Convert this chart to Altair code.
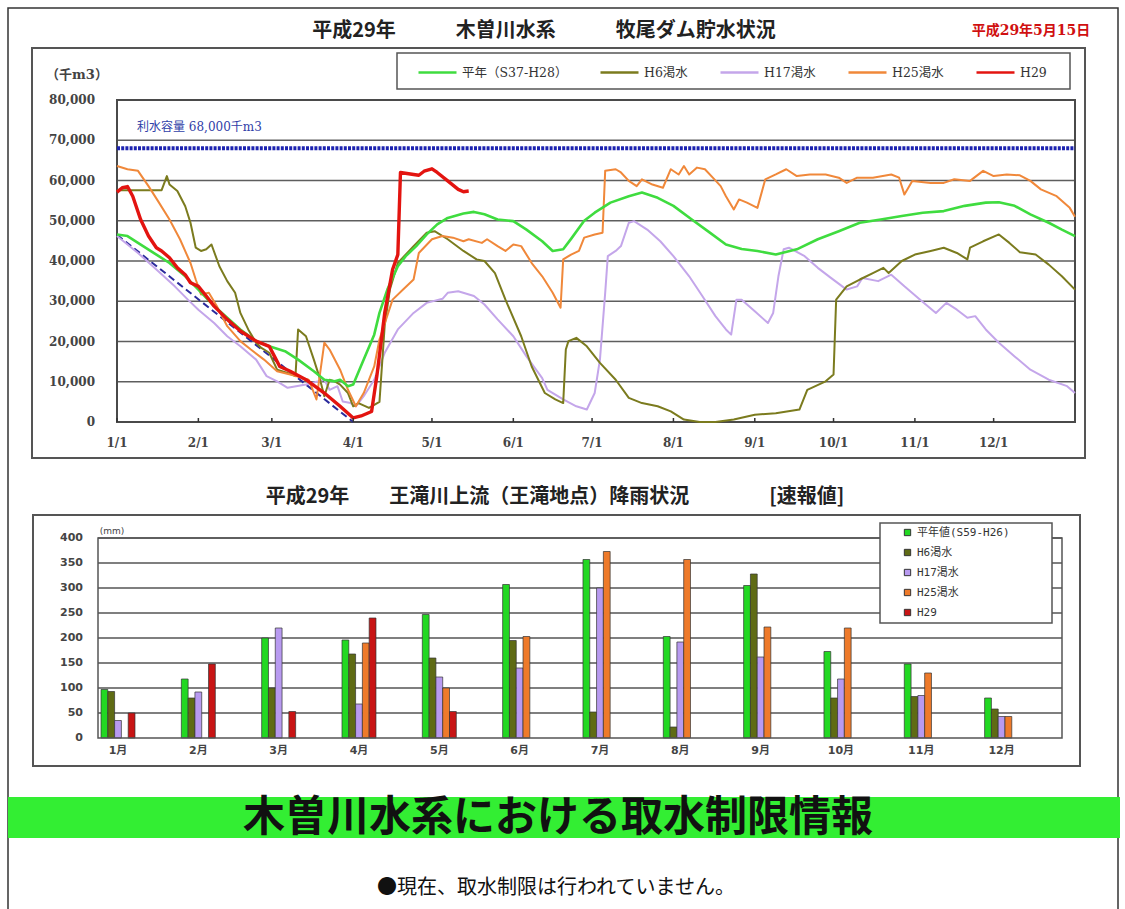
import altair as alt
import pandas as pd

# ------------------------------------------------------------------
# Top chart: reservoir storage (千m3), x = days after 1/1
# ------------------------------------------------------------------
SERIES = ["平年（S37-H28）", "H6渇水", "H17渇水", "H25渇水", "H29"]
SERIES_COLORS = ["#3fdc3f", "#7b7b1e", "#c4a6ea", "#f0883a", "#e31410"]
SERIES_WIDTHS = [2.6, 2.0, 2.0, 2.0, 3.4]

NORMAL = [(0, 46600), (4, 46200), (8, 44500), (15, 41600), (20, 39500), (26, 36200), (31, 32900),
          (37, 28800), (42, 25900), (47, 23000), (53, 20100), (58, 18800), (64, 17600), (69, 15500),
          (75, 12600), (79, 10500), (83, 10100), (85, 10500), (88, 8900), (90, 9300), (94, 15500),
          (98, 21700), (100, 27100), (103, 32900), (107, 38700), (110, 41200), (114, 43700),
          (118, 46600), (122, 49100), (126, 50700), (132, 51800), (136, 52200), (140, 51600),
          (145, 50300), (151, 49900), (156, 47800), (162, 44900), (166, 42500), (170, 42900),
          (173, 45500), (178, 50000), (182, 52000), (188, 54500), (195, 56100), (200, 57000),
          (206, 55700), (212, 53700), (219, 50300), (226, 47000), (232, 44100), (238, 43000),
          (244, 42500), (251, 41600), (259, 42900), (267, 45400), (275, 47400), (283, 49500),
          (291, 50300), (299, 51200), (307, 52000), (315, 52400), (323, 53700), (331, 54500),
          (336, 54600), (342, 53700), (348, 51600), (355, 49500), (360, 47800), (365, 46200)]

H6 = [(0, 57600), (17, 57600), (19, 61100), (20, 59000), (23, 57400), (26, 53600), (28, 49500),
      (30, 43300), (32, 42500), (34, 42900), (36, 44100), (39, 38700), (42, 35000), (45, 32100),
      (47, 27100), (50, 23000), (53, 19700), (55, 18400), (58, 17200), (61, 13000), (65, 12200),
      (68, 11400), (69, 23000), (72, 21300), (75, 15500), (77, 11400), (79, 6400), (81, 10500),
      (83, 10100), (85, 9300), (88, 7200), (90, 3900), (92, 4700), (96, 3500), (100, 5000),
      (102, 24000), (104, 33000), (107, 39500), (113, 43700), (118, 47000), (121, 47400),
      (126, 45400), (132, 42500), (137, 40400), (140, 40000), (144, 37000), (148, 30400),
      (154, 21300), (158, 13800), (163, 7200), (167, 5600), (170, 4700), (171, 18000),
      (172, 20100), (175, 20900), (179, 18800), (184, 14700), (190, 10500), (195, 6000),
      (200, 4700), (206, 3900), (211, 2650), (216, 600), (222, 0), (228, 0), (235, 600),
      (243, 1800), (251, 2200), (260, 3100), (263, 8000), (270, 10100), (273, 11800),
      (274, 30400), (278, 33700), (283, 35400), (288, 37000), (292, 38300), (294, 37000),
      (299, 40000), (304, 41600), (310, 42500), (315, 43300), (320, 42000), (324, 40400),
      (325, 43300), (330, 44900), (336, 46600), (340, 44500), (344, 42200), (350, 41600),
      (355, 39100), (360, 36200), (365, 32900)]

H17 = [(0, 46200), (8, 42000), (15, 37900), (22, 33700), (27, 30400), (31, 27900), (37, 24600),
       (42, 21300), (47, 18800), (53, 15500), (57, 11400), (61, 10100), (65, 8500), (72, 9300),
       (79, 10500), (81, 8000), (84, 8900), (86, 5100), (89, 4700), (91, 3900), (94, 6400),
       (98, 10500), (102, 17200), (107, 23000), (113, 27100), (118, 29600), (124, 30600),
       (126, 32100), (130, 32500), (136, 31300), (140, 29200), (145, 25500), (151, 21300),
       (156, 16300), (162, 10900), (164, 8000), (170, 5600), (175, 3900), (179, 3100),
       (182, 7200), (184, 15500), (186, 32100), (187, 41200), (190, 42500), (192, 43700),
       (195, 49500), (197, 49900), (202, 47800), (207, 44900), (212, 41200), (218, 36200),
       (223, 31300), (228, 26300), (232, 23000), (234, 21700), (236, 30400), (238, 30400),
       (243, 27500), (248, 24600), (250, 27100), (252, 36200), (254, 42900), (256, 43300),
       (262, 41200), (267, 38300), (272, 35800), (278, 32900), (282, 33700), (284, 35800),
       (290, 35000), (295, 36600), (300, 33700), (306, 30400), (312, 27100), (316, 29600),
       (320, 27900), (324, 25900), (327, 26300), (331, 23000), (336, 19700), (342, 16300),
       (348, 13000), (355, 10500), (362, 8900), (365, 7200)]

H25 = [(0, 63600), (4, 62800), (8, 62400), (12, 58600), (16, 54500), (20, 50300), (24, 45400),
       (28, 39500), (30, 35400), (32, 31700), (35, 32100), (38, 28800), (42, 23800), (47, 20100),
       (51, 18000), (56, 15500), (61, 12600), (66, 11800), (71, 10900), (73, 10500), (76, 5600),
       (79, 19700), (81, 18000), (85, 13000), (88, 8000), (91, 3900), (94, 7200), (98, 13800),
       (100, 20500), (105, 30400), (109, 32900), (113, 35400), (115, 42000), (120, 45400),
       (124, 46200), (128, 45800), (132, 44900), (134, 45400), (139, 44500), (141, 45400),
       (145, 43700), (148, 42500), (151, 44100), (154, 43700), (158, 39500), (162, 36200),
       (166, 32100), (169, 28400), (170, 40400), (173, 41600), (176, 42500), (178, 45800),
       (182, 46600), (185, 47000), (186, 62400), (190, 62800), (192, 62000), (195, 59900),
       (198, 58600), (200, 60300), (204, 59000), (208, 58200), (211, 62800), (214, 61500),
       (216, 63600), (218, 61500), (221, 63200), (224, 62800), (227, 60700), (230, 58600),
       (232, 56100), (235, 52800), (237, 55300), (240, 54500), (244, 53200), (247, 60300),
       (251, 61500), (255, 62800), (259, 61100), (264, 61500), (270, 61500), (275, 60700),
       (278, 59400), (282, 60700), (288, 60700), (295, 61500), (298, 60700), (300, 56500),
       (303, 59900), (310, 59400), (315, 59400), (319, 60300), (325, 59900), (330, 62400),
       (334, 61100), (339, 61500), (344, 61300), (348, 59900), (352, 57800), (358, 56100),
       (363, 53200), (365, 51000)]

H29 = [(0, 57100), (2, 58200), (4, 58500), (6, 56100), (9, 50300), (12, 46200), (15, 43300),
       (17, 42500), (20, 40800), (23, 38300), (26, 36600), (28, 34600), (31, 33700), (34, 31300),
       (37, 28800), (42, 25500), (47, 22600), (53, 20100), (58, 18800), (60, 16300), (62, 13800),
       (66, 12600), (72, 10500), (79, 7200), (85, 3900), (90, 1000), (93, 1500), (97, 2600),
       (99, 11400), (102, 27100), (105, 37900), (107, 41600), (108, 62000), (113, 61500),
       (115, 61300), (117, 62300), (120, 62900), (122, 62000), (126, 59900), (130, 57800),
       (132, 57200), (134, 57400)]

SERIES_DATA = [NORMAL, H6, H17, H25, H29]
DRAW_ORDER = [2, 1, 3, 0, 4]

MONTH_START_DAY = [0, 31, 59, 90, 120, 151, 181, 212, 243, 273, 304, 334]
MONTH_TICK_LABEL = ["1/1", "2/1", "3/1", "4/1", "5/1", "6/1", "7/1", "8/1", "9/1", "10/1", "11/1", "12/1"]
TOP_Y_TICKS = [0, 10000, 20000, 30000, 40000, 50000, 60000, 70000, 80000]
CAPACITY = 68000
GUIDE_LINE = [(0, 46500), (90, 0)]

# ------------------------------------------------------------------
# Bottom chart: monthly rainfall (mm)
# ------------------------------------------------------------------
MONTHS = ["1月", "2月", "3月", "4月", "5月", "6月", "7月", "8月", "9月", "10月", "11月", "12月"]
RAIN_SERIES = ["平年値(S59-H26)", "H6渇水", "H17渇水", "H25渇水", "H29"]
RAIN_COLORS = ["#22d822", "#5f6b14", "#b89af0", "#ee7a2a", "#c81414"]
RAIN_NORMAL = [97, 118, 200, 196, 247, 307, 357, 203, 305, 173, 148, 80]
RAIN_H6 = [93, 80, 100, 168, 160, 195, 52, 22, 328, 80, 83, 58]
RAIN_H17 = [35, 92, 220, 68, 122, 140, 300, 192, 162, 118, 85, 43]
RAIN_H25 = [None, None, None, 190, 100, 203, 373, 357, 222, 220, 130, 43]
RAIN_H29 = [50, 148, 53, 240, 53, None, None, None, None, None, None, None]
RAIN_Y_TICKS = [0, 50, 100, 150, 200, 250, 300, 350, 400]

SERIF = "DejaVu Serif, Noto Sans CJK JP"
SANS = "Noto Sans CJK JP"
DSANS = "DejaVu Sans, Noto Sans CJK JP"
MONO = "DejaVu Sans Mono, Noto Sans CJK JP"

# ---------------- tables ----------------
line_frames = []
for i in range(len(SERIES)):
    line_frames.append(pd.DataFrame({
        "series": SERIES[i],
        "day": [p[0] for p in SERIES_DATA[i]],
        "value": [p[1] for p in SERIES_DATA[i]],
    }))

rain_rows = []
for s, vals in zip(RAIN_SERIES, [RAIN_NORMAL, RAIN_H6, RAIN_H17, RAIN_H25, RAIN_H29]):
    for m, v in zip(MONTHS, vals):
        if v is not None:
            rain_rows.append({"month": m, "series": s, "mm": v})
rain_df = pd.DataFrame(rain_rows)

# ---------------- scales ----------------
top_x = alt.Scale(domain=[0, 365], range=[117, 1075], nice=False, zero=False)
top_y = alt.Scale(domain=[0, 80000], range=[422, 100], nice=False, zero=False)
top_color = alt.Scale(domain=SERIES, range=SERIES_COLORS)

bar_x = alt.Scale(domain=MONTHS, range=[98, 1062], paddingInner=0.577, paddingOuter=0.289, align=0.065)
bar_y = alt.Scale(domain=[0, 400], range=[738, 538], nice=False, zero=False)
bar_color = alt.Scale(domain=RAIN_SERIES, range=RAIN_COLORS)


def tx(field):
    return alt.X(field, type="quantitative", scale=top_x, axis=None)


def ty(field):
    return alt.Y(field, type="quantitative", scale=top_y, axis=None)


top_legend = alt.Legend(title=None, orient="none", legendX=417, legendY=52, direction="horizontal",
                        symbolType="stroke", symbolSize=1444, symbolStrokeWidth=2.5,
                        labelFont=SERIF, labelFontSize=12.5, labelColor="#333", labelOffset=4,
                        columnPadding=27, padding=0, labelLimit=300)

grid_df = pd.DataFrame({"v": TOP_Y_TICKS[1:-1], "a": 0, "b": 365})
top_grid = alt.Chart(grid_df).mark_rule(color="#5e5e5e", strokeWidth=1.6).encode(
    y=ty("v"), x=tx("a"), x2="b")

cap_df = pd.DataFrame({"v": [CAPACITY], "a": [0], "b": [365]})
cap_rule = alt.Chart(cap_df).mark_rule(color="#1d23b0", strokeWidth=4, strokeDash=[3, 1.2]).encode(
    y=ty("v"), x=tx("a"), x2="b")

frame_df = pd.DataFrame({"a": [0], "b": [365], "c": [0], "d": [80000]})
top_frame = alt.Chart(frame_df).mark_rect(fill="transparent", stroke="#4a4a4a", strokeWidth=2).encode(
    x=tx("a"), x2="b", y=ty("c"), y2="d")

guide_df = pd.DataFrame({"day": [p[0] for p in GUIDE_LINE], "value": [p[1] for p in GUIDE_LINE]})
guide = alt.Chart(guide_df).mark_line(color="#2a2a9c", strokeWidth=2, strokeDash=[7, 4]).encode(
    x=tx("day"), y=ty("value"))

line_layers = []
for i in DRAW_ORDER:
    line_layers.append(
        alt.Chart(line_frames[i]).mark_line(strokeWidth=SERIES_WIDTHS[i], strokeJoin="round").encode(
            x=tx("day"), y=ty("value"),
            color=alt.Color("series:N", scale=top_color, legend=top_legend)))

mdf = pd.DataFrame({"day": MONTH_START_DAY, "label": MONTH_TICK_LABEL})
month_ticks = alt.Chart(mdf).mark_rule(color="#333", strokeWidth=1.5).encode(
    x=tx("day"), y=alt.value(418), y2=alt.value(422))
month_labels = alt.Chart(mdf).mark_text(font=SERIF, fontSize=12, fontWeight="bold", color="#444",
                                        baseline="middle").encode(
    x=tx("day"), y=alt.value(443), text="label:N")

ydf = pd.DataFrame({"v": TOP_Y_TICKS})
y_labels = alt.Chart(ydf).mark_text(font=SERIF, fontSize=12, fontWeight="bold", color="#444",
                                    align="right", baseline="middle").encode(
    y=ty("v"), x=alt.value(95), text=alt.Text("v:Q", format=","))

top_group = alt.layer(top_grid, top_frame, cap_rule, guide, *line_layers, month_ticks, month_labels, y_labels)

# ---------------- bar chart ----------------
bar_legend = alt.Legend(title=None, orient="none", legendX=902, legendY=527, direction="vertical",
                        symbolType="square", symbolSize=40, symbolStrokeColor="#333", symbolStrokeWidth=1,
                        labelFont=MONO, labelFontSize=11, labelColor="#333", rowPadding=8,
                        padding=0, labelOffset=4, labelLimit=300)

bgrid_df = pd.DataFrame({"v": RAIN_Y_TICKS[1:]})
bar_grid = alt.Chart(bgrid_df).mark_rule(color="#555", strokeWidth=1.3).encode(
    y=alt.Y("v:Q", scale=bar_y, axis=None), x=alt.value(98), x2=alt.value(1062))

bars = alt.Chart(rain_df).mark_bar(stroke="#333", strokeWidth=0.7).encode(
    x=alt.X("month:N", scale=bar_x, axis=None),
    xOffset=alt.XOffset("series:N", scale=alt.Scale(domain=RAIN_SERIES, paddingInner=0, paddingOuter=0)),
    y=alt.Y("mm:Q", scale=bar_y, axis=None),
    color=alt.Color("series:N", scale=bar_color, legend=bar_legend))

bm_df = pd.DataFrame({"month": MONTHS})
bar_month_labels = alt.Chart(bm_df).mark_text(font=DSANS, fontSize=11, fontWeight="bold", color="#444",
                                              baseline="middle").encode(
    x=alt.X("month:N", scale=bar_x, axis=None), y=alt.value(751), text="month:N")

by_df = pd.DataFrame({"v": RAIN_Y_TICKS})
bar_y_labels = alt.Chart(by_df).mark_text(font=DSANS, fontSize=11, fontWeight="bold", color="#444",
                                          align="right", baseline="middle").encode(
    y=alt.Y("v:Q", scale=bar_y, axis=None), x=alt.value(83), text="v:Q")

bar_group = alt.layer(bar_grid, bars, bar_month_labels, bar_y_labels)

# ---------------- decorations (frames, titles, banner) ----------------
ONE = pd.DataFrame({"t": [""]})


def box(x0, x1, y0, y1, **kw):
    return alt.Chart(ONE).mark_rect(**kw).encode(
        x=alt.value(x0), x2=alt.value(x1), y=alt.value(y0), y2=alt.value(y1))


def label(text, x, y, **kw):
    return alt.Chart(pd.DataFrame({"t": [text]})).mark_text(baseline="middle", **kw).encode(
        x=alt.value(x), y=alt.value(y), text="t:N")


deco = alt.layer(
    box(8, 1118, 8, 940, fill="transparent", stroke="#333", strokeWidth=1.5),
    box(32, 1085, 48, 458, fill="transparent", stroke="#555", strokeWidth=2),
    box(397, 1070, 53, 89, fill="white", stroke="#555", strokeWidth=1.5),
    box(33, 1080, 515, 766, fill="transparent", stroke="#555", strokeWidth=2),
    box(98, 1062, 538, 738, fill="transparent", stroke="#555", strokeWidth=1.5),
    box(880, 1052, 523, 623, fill="white", stroke="#555", strokeWidth=1.5),
    box(8, 1120, 797, 838, fill="#33ee33"),
    label("平成29年　　　木曽川水系　　　牧尾ダム貯水状況", 544, 31, font=SANS, fontSize=20, fontWeight="bold", color="#222"),
    label("平成29年5月15日", 1031, 31, font=SERIF, fontSize=14, fontWeight="bold", color="#d01010"),
    label("（千m3）", 77, 75, font=SERIF, fontSize=13, fontWeight="bold", color="#444"),
    label("利水容量 68,000千m3", 137, 127, align="left", font=SERIF, fontSize=12, color="#3040a8"),
    label("平成29年　　王滝川上流（王滝地点）降雨状況　　　　[速報値]", 555, 497, font=SANS, fontSize=20, fontWeight="bold", color="#222"),
    label("(mm)", 112, 531, font=DSANS, fontSize=9, color="#444"),
    label("木曽川水系における取水制限情報", 558, 818, font=SANS, fontSize=42, fontWeight="bold", color="#111"),
    label("●現在、取水制限は行われていません。", 556, 888, font=SANS, fontSize=20, color="#111"),
)

chart = alt.layer(top_group, bar_group, deco).resolve_scale(
    x="independent", y="independent", color="independent"
).resolve_legend(color="independent").properties(
    width=1125, height=909, padding=0, autosize=alt.AutoSizeParams(type="none"), background="white"
).configure_view(stroke=None)

chart.save("out.html", embed_options={"renderer": "svg", "actions": False})
